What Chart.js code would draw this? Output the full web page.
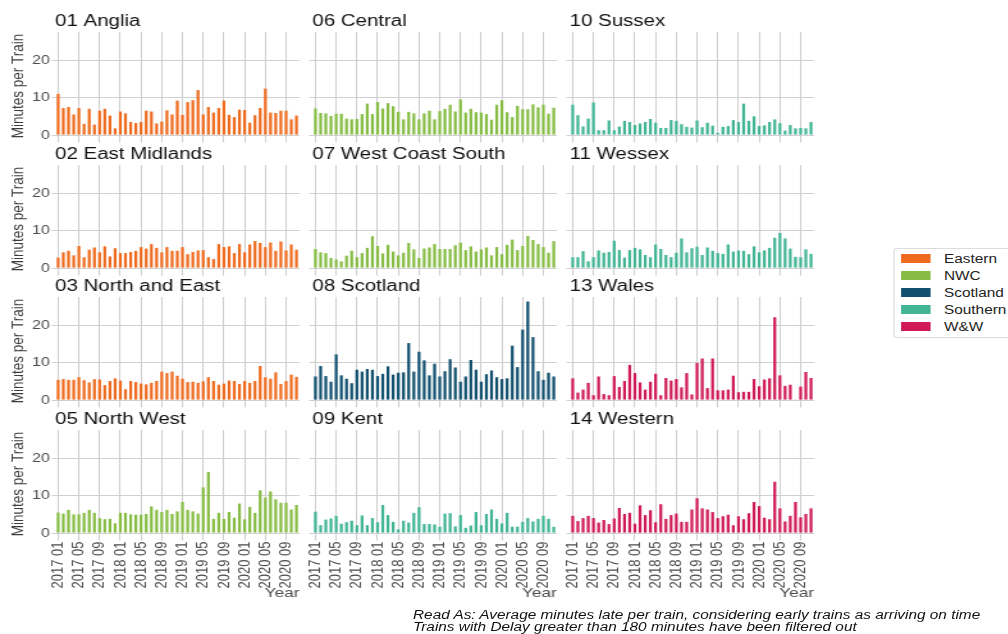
<!DOCTYPE html>
<html>
<head>
<meta charset="utf-8">
<script src="https://cdn.jsdelivr.net/npm/chart.js@4.4.1/dist/chart.umd.min.js"></script>
<style>
  html, body { margin: 0; padding: 0; background: #fff; overflow: hidden; width: 1008px; height: 634px; }
  /* the figure is laid out on a narrower stage and stretched horizontally */
  #stage { position: absolute; left: 0; top: 0; width: 787.5px; height: 634px; overflow: hidden;
           transform: scaleX(1.28); transform-origin: 0 0; font-family: 'Liberation Sans', Arial, sans-serif; }
  #stage canvas { position: absolute; }
  .legend { position: absolute; border: 1px solid #dcdcdc; border-radius: 3px; box-sizing: border-box; background: #fff; }
  .key { position: absolute; width: 23.7px; height: 9px; }
  .lab { position: absolute; font-size: 12px; line-height: 14px; color: #222; white-space: nowrap; }
  .caption { position: absolute; font-style: italic; font-size: 12px; line-height: 11.7px; color: #111; white-space: nowrap; }
</style>
</head>
<body>
<div id="stage"></div>
<script>
// Monthly periods on the x axis
const months = [
  '2017 01','2017 02','2017 03','2017 04','2017 05','2017 06','2017 07','2017 08','2017 09','2017 10','2017 11','2017 12',
  '2018 01','2018 02','2018 03','2018 04','2018 05','2018 06','2018 07','2018 08','2018 09','2018 10','2018 11','2018 12',
  '2019 01','2019 02','2019 03','2019 04','2019 05','2019 06','2019 07','2019 08','2019 09','2019 10','2019 11','2019 12',
  '2020 01','2020 02','2020 03','2020 04','2020 05','2020 06','2020 07','2020 08','2020 09','2020 10','2020 11'
];
const tickMonths = ['2017 01','2017 05','2017 09','2018 01','2018 05','2018 09','2019 01','2019 05','2019 09','2020 01','2020 05','2020 09'];
const yTicks = [0, 10, 20];

// Average minutes late per train, by route
const anglia = [11.0,7.2,7.5,5.5,7.2,3.0,7.0,2.8,6.5,7.0,5.2,1.8,6.3,5.8,3.5,3.2,3.5,6.5,6.3,3.1,3.6,6.6,5.5,9.2,5.4,8.8,9.3,12.0,5.5,7.5,6.0,7.2,9.2,5.4,4.8,6.8,6.7,3.3,5.3,7.2,12.4,6.0,5.9,6.5,6.5,4.2,5.2];
const eastMidlands = [2.8,4.2,4.6,3.4,5.9,2.9,4.9,5.5,4.2,5.8,3.1,5.3,4.0,4.0,4.3,4.6,5.6,5.2,6.4,5.4,4.2,5.6,4.6,4.6,5.6,3.7,4.3,4.7,4.8,2.9,2.4,6.4,5.6,5.8,4.0,6.4,4.2,6.3,7.2,6.7,5.6,6.8,4.6,7.1,4.7,6.3,4.9];
const northAndEast = [5.4,5.6,5.4,5.4,6.1,5.3,4.7,5.6,5.5,4.0,5.1,5.8,5.2,2.9,5.1,4.8,4.4,4.2,4.6,5.1,7.6,7.2,7.6,6.5,5.7,4.8,4.9,4.6,5.0,6.1,5.1,4.1,4.4,5.2,5.1,4.3,5.1,4.6,5.1,9.1,6.1,5.7,7.4,4.3,5.1,6.8,6.2];
const northWest = [5.5,5.2,6.2,5.0,5.0,5.4,6.2,5.4,4.0,3.7,3.8,2.6,5.4,5.4,5.0,4.9,4.9,5.1,7.1,6.2,5.6,6.2,5.1,5.8,8.3,6.2,5.8,5.2,12.2,16.3,3.8,5.4,3.8,5.6,4.1,7.9,3.7,7.0,5.4,11.4,9.5,11.1,9.0,8.1,8.1,6.3,7.5];
const central = [7.1,5.9,5.8,5.1,5.7,5.7,4.4,4.2,4.3,5.6,8.4,5.6,8.8,7.1,8.5,7.7,6.2,4.2,6.2,5.8,4.2,5.8,6.5,4.2,6.4,7.0,8.1,6.3,9.5,6.0,7.0,6.1,6.0,5.6,4.1,8.1,9.3,6.1,4.8,7.8,6.9,6.9,8.2,7.4,8.1,5.7,7.3];
const westCoastSouth = [5.1,4.2,4.0,2.7,2.3,1.8,3.3,4.6,2.9,4.0,5.4,8.5,5.9,3.9,6.2,4.4,3.4,4.1,6.7,5.0,2.7,5.2,5.5,6.4,5.1,5.1,5.1,6.1,6.8,4.8,5.8,4.4,5.0,5.5,3.4,5.6,3.7,6.2,7.6,4.8,5.9,8.6,7.5,6.4,5.6,4.1,7.2];
const scotland = [6.3,9.1,6.4,4.9,12.2,6.6,5.7,4.5,8.1,7.6,8.3,8.1,6.4,7.0,9.0,6.8,7.3,7.4,15.2,7.6,12.9,10.6,6.6,9.7,6.3,7.7,10.9,8.7,4.9,6.3,10.7,8.1,4.9,6.9,7.9,6.1,5.6,5.8,14.5,8.8,18.8,26.3,16.8,7.7,5.4,7.3,6.3];
const kent = [5.7,2.1,3.6,3.9,4.6,2.5,2.9,3.3,2.1,4.7,2.1,4.0,2.9,7.5,4.8,3.0,1.0,3.3,2.8,5.4,6.9,2.4,2.4,2.3,1.7,5.2,5.3,1.8,4.8,1.4,2.0,5.6,2.1,5.1,6.3,3.8,2.6,5.4,1.7,1.7,3.0,4.0,3.1,3.8,4.6,3.8,1.7];
const sussex = [8.1,5.3,2.3,4.4,8.7,1.3,1.3,3.9,1.3,2.3,3.8,3.5,2.7,3.1,3.5,4.3,3.3,1.9,1.9,4.0,3.8,2.9,2.2,2.0,3.9,2.1,3.3,2.5,0.6,2.2,2.4,4.0,3.5,8.4,3.8,5.0,2.4,2.6,3.5,4.2,3.2,1.2,2.7,1.8,1.9,1.8,3.5];
const wessex = [2.9,2.9,4.5,1.8,2.9,4.7,4.1,4.3,7.3,4.8,2.8,4.8,5.4,5.0,3.5,2.9,6.3,5.1,3.5,2.9,4.1,7.9,4.2,5.3,5.7,3.5,5.5,4.6,4.0,3.8,6.3,4.4,4.7,4.6,3.7,5.8,4.2,4.7,5.4,8.1,9.4,7.9,5.2,3.0,2.9,5.0,3.8];
const wales = [5.8,2.0,2.8,4.6,1.3,6.3,1.6,1.3,6.4,3.5,5.1,9.4,7.2,4.7,2.8,4.9,7.0,1.3,5.9,5.2,5.6,3.4,7.2,1.5,9.9,11.1,3.2,11.1,2.6,2.6,2.8,6.5,2.1,2.2,2.2,5.6,3.7,5.5,5.8,22.1,6.6,3.8,4.1,0.1,3.6,7.5,5.9];
const western = [4.6,3.2,4.0,4.6,4.0,2.8,3.5,2.4,3.9,6.7,5.1,5.4,2.5,7.4,4.8,6.1,2.9,7.7,3.8,4.8,5.2,3.0,3.0,6.3,9.3,6.6,6.3,5.6,4.0,4.5,4.9,2.1,4.5,3.7,5.3,8.3,7.2,4.1,3.7,13.7,6.6,3.1,4.6,8.3,4.2,5.1,6.6];

// Route groups and their colours
const routes = ['Eastern', 'NWC', 'Scotland', 'Southern', 'W&W'];
const routeColours = ['#EE6B1E', '#86BC43', '#11506E', '#40B493', '#CF1A55'];

// Facets, read row by row
const panelTitles = ['01 Anglia', '06 Central', '10 Sussex',
                     '02 East Midlands', '07 West Coast South', '11 Wessex',
                     '03 North and East', '08 Scotland', '13 Wales',
                     '05 North West', '09 Kent', '14 Western'];
const panelSeries = [anglia, central, sussex,
                     eastMidlands, westCoastSouth, wessex,
                     northAndEast, scotland, wales,
                     northWest, kent, western];
const panelRoutes = ['Eastern', 'NWC', 'Southern',
                     'Eastern', 'NWC', 'Southern',
                     'Eastern', 'Scotland', 'W&W',
                     'NWC', 'Southern', 'W&W'];

// ---- layout ----
const S = 1.28;                                   // horizontal stretch applied to #stage
const FONT = "'Liberation Sans', Arial, sans-serif";
const colLeft = [55.2, 312.6, 569.2].map(x => x / S);
const plotW = 244.5 / S;
const rowTop = [31.9, 164.5, 297.1, 429.7];
const plotH = 108;
const LM = 44, TM = 22;
const Y_MIN = -1.31, Y_MAX = 27.5;
const X_MIN = -0.6, X_MAX = months.length - 1 + 0.6;
const tickIdx = tickMonths.map(m => months.indexOf(m));

const stage = document.getElementById('stage');

panelTitles.forEach((title, i) => {
  const r = Math.floor(i / 3), c = i % 3;
  const lastRow = r === 3, firstCol = c === 0;
  const BM = lastRow ? 64 : 6;
  const W = Math.ceil(LM + plotW + 4);
  const H = TM + plotH + BM;
  const cv = document.createElement('canvas');
  cv.width = W; cv.height = H;
  cv.style.left = (colLeft[c] - LM) + 'px';
  cv.style.top = (rowTop[r] - TM) + 'px';
  stage.appendChild(cv);

  const values = panelSeries[i];
  const colour = routeColours[routes.indexOf(panelRoutes[i])];

  new Chart(cv, {
    type: 'bar',
    data: {
      datasets: [{
        data: values.map((v, k) => ({ x: k, y: v })),
        backgroundColor: colour,
        borderWidth: 0,
        barPercentage: 0.55,
        categoryPercentage: 1
      }]
    },
    options: {
      responsive: false,
      animation: false,
      devicePixelRatio: 1,
      layout: { padding: { left: 0, top: 0, bottom: 0, right: W - LM - plotW } },
      plugins: {
        legend: { display: false },
        tooltip: { enabled: false },
        title: {
          display: true, text: title, align: 'start', fullSize: false, color: '#111',
          font: { family: FONT, size: 16, weight: 'normal', lineHeight: 1.2 },
          padding: { top: 2.2, bottom: 0.6 }
        }
      },
      scales: {
        x: {
          type: 'linear', min: X_MIN, max: X_MAX, bounds: 'data', offset: false,
          grid: { offset: false, color: '#cdcdcd', lineWidth: 1, tickLength: 2.5, drawTicks: true },
          border: { display: false },
          afterBuildTicks: s => { s.ticks = tickIdx.map(v => ({ value: v })); },
          ticks: {
            display: lastRow, autoSkip: false, minRotation: 90, maxRotation: 90, padding: 1,
            color: '#4d4d4d', font: { family: FONT, size: 13 },
            callback: v => months[v] ?? ''
          },
          title: {
            display: lastRow, text: 'Year', align: 'end', color: '#4d4d4d',
            font: { family: FONT, size: 13.5, lineHeight: 1.2 }, padding: { top: 0, bottom: 0.6 }
          },
          afterFit: s => { s.height = BM; s.paddingLeft = 0; s.paddingRight = 0; }
        },
        y: {
          min: Y_MIN, max: Y_MAX, bounds: 'data',
          grid: { color: '#d0d0d0', lineWidth: 1, tickLength: 2.5 },
          border: { display: false },
          afterBuildTicks: s => { s.ticks = yTicks.map(v => ({ value: v })); },
          ticks: { display: firstCol, padding: 1.5, color: '#4d4d4d', font: { family: FONT, size: 12.5 } },
          title: {
            display: firstCol, text: 'Minutes per Train', color: '#3d3d3d',
            font: { family: FONT, size: 13.5, lineHeight: 1.2 }, padding: { top: 7.4, bottom: 0 }
          },
          afterFit: s => { s.width = LM; s.paddingTop = 0; s.paddingBottom = 0; }
        }
      }
    }
  });
});

// ---- legend ----
const legend = document.createElement('div');
legend.className = 'legend';
legend.style.left = (894 / S) + 'px';
legend.style.top = '248px';
legend.style.width = '120px';
legend.style.height = '90px';
stage.appendChild(legend);
routes.forEach((name, k) => {
  const cy = 258.7 + k * 17;
  const key = document.createElement('div');
  key.className = 'key';
  key.style.left = (900.7 / S) + 'px';
  key.style.top = (cy - 4.5) + 'px';
  key.style.background = routeColours[k];
  stage.appendChild(key);
  const lab = document.createElement('div');
  lab.className = 'lab';
  lab.style.left = (944 / S) + 'px';
  lab.style.top = (cy - 7) + 'px';
  lab.textContent = name;
  stage.appendChild(lab);
});

// ---- caption ----
const captionLines = [
  'Read As: Average minutes late per train, considering early trains as arriving on time',
  'Trains with Delay greater than 180 minutes have been filtered out'
];
captionLines.forEach((t, k) => {
  const d = document.createElement('div');
  d.className = 'caption';
  d.style.left = (413 / S) + 'px';
  d.style.top = (610.0 + k * 11.7) + 'px';
  d.textContent = t;
  stage.appendChild(d);
});
</script>
</body>
</html>
